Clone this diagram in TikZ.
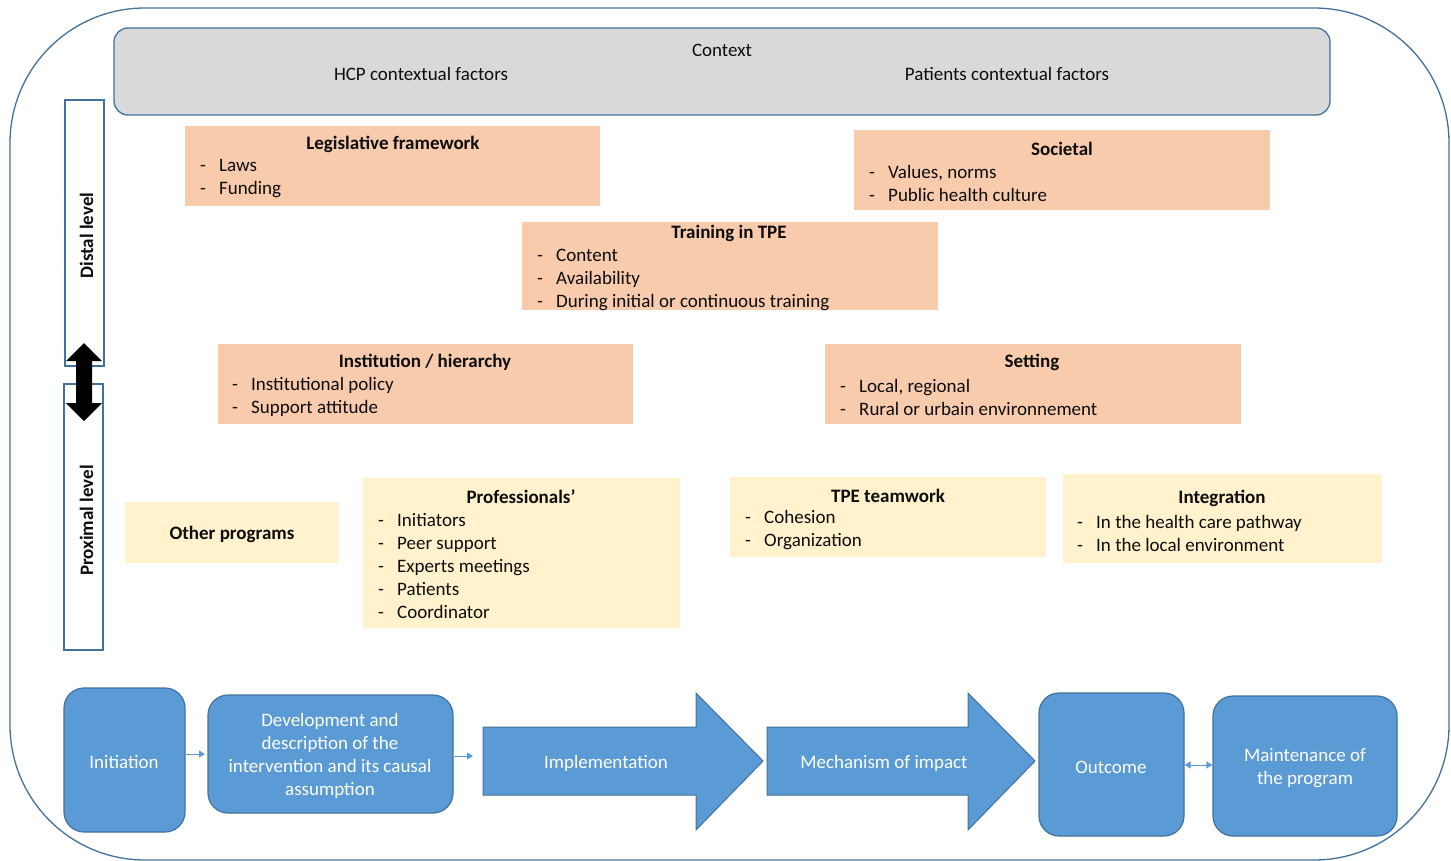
\documentclass[tikz,border=0pt]{standalone}
\usepackage{fontspec}
\setmainfont{Carlito}
\usetikzlibrary{fit,arrows.meta}
\definecolor{frame}{HTML}{41719C}
\definecolor{ctxgray}{HTML}{D9D9D9}
\definecolor{peach}{HTML}{F8CBAD}
\definecolor{cream}{HTML}{FFF2CC}
\definecolor{bluefill}{HTML}{5B9BD5}
\definecolor{bluedraw}{HTML}{41719C}
\tikzset{
  every node/.style={font=\fontsize{19}{23}\selectfont, text=black!95},
  txt/.style={inner sep=0pt, yshift=-1.5pt},
  obox/.style={fill=peach, draw=none, inner sep=0pt},
  ybox/.style={fill=cream, draw=none, inner sep=0pt},
  ttl/.style={font=\fontsize{19}{23}\selectfont\bfseries, inner sep=0pt, yshift=-1.5pt},
  items/.style={align=left, anchor=west, inner sep=0pt, yshift=-1.5pt},
  bbox/.style={fill=bluefill, draw=bluedraw, line width=1.2pt, rounded corners=20pt, inner sep=0pt},
  btxt/.style={text=white, align=center, inner sep=0pt, yshift=-1.5pt},
  lvl/.style={draw=frame, line width=1.2pt, fill=white, inner sep=0pt},
  smallarr/.style={draw=bluefill, line width=1pt, -{Triangle[length=6pt,width=7pt]}},
}
\newcommand{\itm}[1]{\makebox[19pt][l]{-}#1}
\begin{document}
\begin{tikzpicture}[x=1pt,y=-1pt]
\useasboundingbox (0,0) rectangle (1451,861);
% outer frame
\draw[frame, line width=1.3pt, rounded corners=135pt] (10,8) rectangle (1449,860);
% context
\node[fit={(114,28) (1330,115)}, fill=ctxgray, draw=frame, line width=1.3pt, rounded corners=14pt, inner sep=0pt] (ctx) {};
\node[txt] (ctxt) at (722,49) {Context};
\node[txt] (hcp) at (421,72) {HCP contextual factors};
\node[txt] (pat) at (1007,72) {Patients contextual factors};
% level boxes
\node[lvl, fit={(65,100) (104,366)}] (distal) {};
\node[lvl, fit={(64,384) (103,650)}] (proximal) {};
\node[ttl, rotate=90, yshift=1.5pt, xshift=-1pt] (distalt) at (88,233) {Distal level};
\node[ttl, rotate=90, yshift=1.5pt, xshift=-1pt] (proxt) at (88,518) {Proximal level};
% double arrow
\fill[black] (84,343) -- (102,361) -- (92,361) -- (92,403) -- (102,403) -- (84,421) -- (66,403) -- (76,403) -- (76,361) -- (66,361) -- cycle;
% legislative
\node[obox, fit={(185,126) (600,206)}] (leg) {};
\node[ttl] (legt) at (393,143) {Legislative framework};
\node[items] (legi) at (200,177.5) {\itm{Laws}\\\itm{Funding}};
% societal
\node[obox, fit={(854,130) (1270,210)}] (soc) {};
\node[ttl] (soct) at (1062,147) {Societal};
\node[items] (soci) at (869,181.5) {\itm{Values, norms}\\\itm{Public health culture}};
% training
\node[obox, fit={(522,222) (938,310)}] (tr) {};
\node[ttl] (trt) at (729,232) {Training in TPE};
\node[items] (tri) at (537,278) {\itm{Content}\\\itm{Availability}\\\itm{During initial or continuous training}};
% institution
\node[obox, fit={(218,344) (633,424)}] (ins) {};
\node[ttl] (inst) at (425,361) {Institution / hierarchy};
\node[items] (insi) at (232,395.5) {\itm{Institutional policy}\\\itm{Support attitude}};
% setting
\node[obox, fit={(825,344) (1241,424)}] (set) {};
\node[ttl] (sett) at (1032,361) {Setting};
\node[items] (seti) at (840,395.5) {\itm{Local, regional}\\\itm{Rural or urbain environnement}};
% other programs
\node[ybox, fit={(125,502) (339,563)}] (oth) {};
\node[ttl] (otht) at (232,533) {Other programs};
% professionals
\node[ybox, fit={(363,478) (680,628)}] (pro) {};
\node[ttl] (prot) at (521,495) {Professionals’};
\node[items] (proi) at (378,564) {\itm{Initiators}\\\itm{Peer support}\\\itm{Experts meetings}\\\itm{Patients}\\\itm{Coordinator}};
% teamwork
\node[ybox, fit={(730,477) (1046,557)}] (tea) {};
\node[ttl] (teat) at (888,494) {TPE teamwork};
\node[items] (teai) at (745,528.5) {\itm{Cohesion}\\\itm{Organization}};
% integration
\node[ybox, fit={(1063,474) (1382,563)}] (int) {};
\node[ttl] (intt) at (1222,497) {Integration};
\node[items] (inti) at (1077,531.5) {\itm{In the health care pathway}\\\itm{In the local environment}};
% bottom row
\node[bbox, fit={(64,688) (185,832)}] (ini) {};
\node[btxt] (init) at (124,760) {Initiation};
\node[bbox, fit={(208,695) (453,813)}] (dev) {};
\node[btxt] (devt) at (330,754.5) {Development and\\description of the\\intervention and its causal\\assumption};
\fill[bluefill, draw=bluedraw, line width=1pt] (483,727) -- (696,727) -- (696,693) -- (763,761) -- (696,830) -- (696,795) -- (483,795) -- cycle;
\node[btxt] (imp) at (606,762) {Implementation};
\fill[bluefill, draw=bluedraw, line width=1pt] (767,727) -- (968,727) -- (968,693) -- (1035,761) -- (968,830) -- (968,795) -- (767,795) -- cycle;
\node[btxt] (mec) at (884,762) {Mechanism of impact};
\node[bbox, fit={(1039,693) (1184,836)}] (out) {};
\node[btxt] (outt) at (1111,766) {Outcome};
\node[bbox, fit={(1213,696) (1397,836)}] (mai) {};
\node[btxt] (mait) at (1305,766.5) {Maintenance of\\the program};
% connectors
\draw[smallarr] (ini.east |- 0,754) -- (205,754);
\draw[smallarr] (dev.east |- 0,756) -- (473,756);
\draw[draw=bluefill, line width=1pt, {Triangle[length=6pt,width=7pt]}-{Triangle[length=6pt,width=7pt]}] (out.east |- 0,765) -- (mai.west |- 0,765);
\end{tikzpicture}
\end{document}
